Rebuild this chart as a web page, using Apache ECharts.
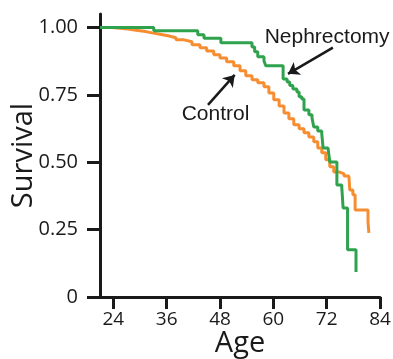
<!DOCTYPE html>
<html>
<head>
<meta charset="utf-8">
<script src="https://cdn.jsdelivr.net/npm/echarts@6/dist/echarts.min.js"></script>
<style>
  html, body { margin: 0; padding: 0; background: #fff; }
  #chart { width: 393px; height: 359px; }
</style>
</head>
<body>
<div id="chart"></div>
<script>
// x = age, y = survival (Kaplan-Meier steps)
const ageTicks = [24, 36, 48, 60, 72, 84];
const survivalTicks = [0, 0.25, 0.5, 0.75, 1];

const nephrectomyAge = [21, 33.1, 43.0, 44.4, 48.2, 55.2, 55.8, 56.5, 57.9, 58.3, 62.2, 63.1, 63.7, 64.4, 65.3, 65.8, 66.4, 66.9, 68.0, 68.7, 69.1, 70.0, 70.9, 71.2, 72.3, 72.7, 74.3, 75.4, 75.7, 76.7, 78.6];
const nephrectomySurv = [1.0, 0.988, 0.973, 0.960, 0.943, 0.928, 0.910, 0.891, 0.876, 0.858, 0.809, 0.798, 0.785, 0.772, 0.761, 0.743, 0.735, 0.694, 0.676, 0.665, 0.631, 0.616, 0.605, 0.553, 0.546, 0.501, 0.416, 0.408, 0.330, 0.175, 0.093];

const controlAge = [21, 23.7, 25.5, 27.3, 29.1, 30.9, 32.7, 34.5, 36.3, 38.1, 39.9, 41.7, 43.5, 45.0, 46.6, 48.0, 49.5, 51.1, 52.5, 53.8, 55.2, 56.5, 57.9, 59.0, 60.1, 61.3, 62.4, 63.5, 64.6, 65.8, 66.9, 68.0, 69.1, 70.0, 70.9, 71.8, 72.7, 73.6, 74.8, 75.9, 77.0, 77.2, 77.9, 78.4, 81.3, 81.5];
const controlSurv = [1.0, 0.997, 0.994, 0.990, 0.986, 0.980, 0.975, 0.969, 0.962, 0.954, 0.947, 0.936, 0.925, 0.913, 0.899, 0.887, 0.873, 0.858, 0.839, 0.821, 0.806, 0.795, 0.780, 0.757, 0.732, 0.709, 0.683, 0.661, 0.639, 0.624, 0.609, 0.594, 0.576, 0.553, 0.535, 0.509, 0.483, 0.464, 0.457, 0.449, 0.442, 0.397, 0.379, 0.323, 0.278, 0.238];

// annotation labels and arrows (data coords)
const labelNames = ['Nephrectomy', 'Control'];
const labelCoords = [[72.1, 0.964], [47.0, 0.678]];
const arrowCoords = [
  [[73.4, 0.925], [63.3, 0.828]],
  [[45.3, 0.713], [51.3, 0.824]]
];

const GREEN = '#2fa24e';
const ORANGE = '#f68d30';
const INK = '#1a1a1a';

const chart = echarts.init(document.getElementById('chart'));

chart.setOption({
  animation: false,
  backgroundColor: '#fff',
  grid: {
    left: 100,
    right: 13,
    top: 14,
    bottom: 62,
    outerBoundsMode: 'none'
  },
  xAxis: {
    type: 'value',
    min: 21,
    max: 84,
    name: 'Age',
    nameLocation: 'middle',
    nameGap: 32,
    nameMoveOverlap: false,
    nameTextStyle: { fontFamily: 'Open Sans', fontSize: 29, color: INK },
    axisLine: { lineStyle: { color: INK, width: 3 } },
    axisTick: { customValues: ageTicks, length: 12, lineStyle: { color: INK, width: 3 } },
    axisLabel: {
      customValues: ageTicks,
      fontFamily: 'Open Sans',
      fontSize: 19,
      color: INK,
      margin: 13
    },
    splitLine: { show: false }
  },
  yAxis: {
    type: 'value',
    min: 0,
    max: 1.05,
    name: 'Survival',
    nameLocation: 'middle',
    nameRotate: 90,
    nameGap: 62,
    nameMoveOverlap: false,
    nameTextStyle: { fontFamily: 'Open Sans', fontSize: 29, color: INK },
    axisLine: { show: true, lineStyle: { color: INK, width: 3 } },
    axisTick: { show: true, customValues: survivalTicks, length: 13, lineStyle: { color: INK, width: 3 } },
    axisLabel: {
      customValues: survivalTicks,
      fontFamily: 'Open Sans',
      fontSize: 20,
      color: INK,
      margin: 22,
      formatter: function (value) {
        return value === 0 ? '0' : value.toFixed(2);
      }
    },
    splitLine: { show: false }
  },
  series: [
    {
      name: 'Control',
      type: 'line',
      step: 'end',
      showSymbol: false,
      lineStyle: { color: ORANGE, width: 3 },
      data: controlAge.map((a, i) => [a, controlSurv[i]])
    },
    {
      name: 'Nephrectomy',
      type: 'line',
      step: 'end',
      showSymbol: false,
      lineStyle: { color: GREEN, width: 3 },
      data: nephrectomyAge.map((a, i) => [a, nephrectomySurv[i]]),
      markLine: {
        silent: true,
        symbol: ['none', 'arrow'],
        symbolSize: 11,
        label: { show: false },
        lineStyle: { color: INK, width: 2.5, type: 'solid' },
        data: arrowCoords.map((pair) => [{ coord: pair[0] }, { coord: pair[1] }])
      },
      markPoint: {
        silent: true,
        symbol: 'circle',
        symbolSize: 1,
        itemStyle: { color: 'transparent' },
        label: {
          show: true,
          position: 'inside',
          fontFamily: 'Liberation Sans',
          fontSize: 21,
          color: INK
        },
        data: labelNames.map((name, i) => ({
          coord: labelCoords[i],
          value: name,
          label: { formatter: name }
        }))
      }
    }
  ]
});
</script>
</body>
</html>
